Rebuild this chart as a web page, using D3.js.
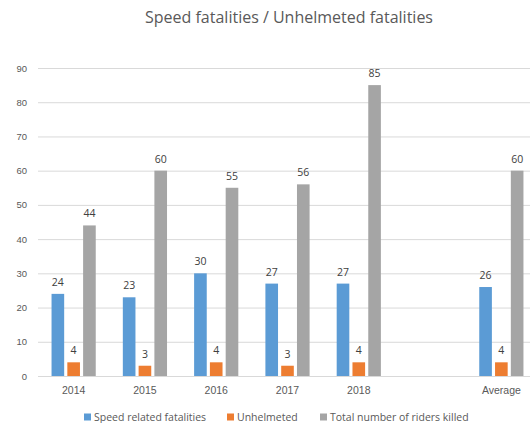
<!DOCTYPE html>
<html>
<head>
<meta charset="utf-8">
<script src="https://cdn.jsdelivr.net/npm/d3@7"></script>
<style>
  html, body { margin: 0; padding: 0; background: #fff; }
  svg { display: block; font-family: "Open Sans", "Liberation Sans", sans-serif; }
</style>
</head>
<body>
<svg id="chart" width="530" height="423"></svg>
<script>
// Yearly rider fatalities with a five-year average column
const categories = ["2014", "2015", "2016", "2017", "2018", "", "Average"];
const speedRelated = [24, 23, 30, 27, 27, null, 26];
const unhelmeted = [4, 3, 4, 3, 4, null, 4];
const totalKilled = [44, 60, 55, 56, 85, null, 60];
const seriesNames = ["Speed related fatalities", "Unhelmeted", "Total number of riders killed"];
const seriesColors = ["#5b9bd5", "#ed7d31", "#a5a5a5"];
const yTicks = [0, 10, 20, 30, 40, 50, 60, 70, 80, 90];

const seriesValues = [speedRelated, unhelmeted, totalKilled];

const svg = d3.select("#chart");
const margin = { left: 38, right: -7, top: 68, bottom: 47 };
const width = 530, height = 423;

const x = d3.scaleBand()
  .domain(d3.range(categories.length))
  .range([margin.left, width - margin.right])
  .paddingInner(0)
  .paddingOuter(0);

const x1 = d3.scaleBand()
  .domain(d3.range(seriesNames.length))
  .range([0, x.bandwidth() * 0.62])
  .paddingInner(0.2);

const y = d3.scaleLinear()
  .domain([0, 90])
  .range([height - margin.bottom, margin.top]);

// Title
svg.append("text")
  .attr("x", 289).attr("y", 23)
  .attr("text-anchor", "middle")
  .attr("fill", "#595959")
  .attr("font-size", 16)
  .text("Speed fatalities / Unhelmeted fatalities");

// Gridlines and y tick labels
const yAxis = d3.axisLeft(y).tickValues(yTicks).tickSize(-(width - margin.right - margin.left)).tickPadding(11);
const gy = svg.append("g")
  .attr("transform", `translate(${margin.left},0)`)
  .call(yAxis);
gy.select(".domain").remove();
gy.selectAll(".tick line").attr("stroke", "#d9d9d9").attr("stroke-width", 1);
gy.selectAll(".tick text").attr("fill", "#595959").attr("font-size", 9.5).attr("font-family", "inherit");

// Category axis
const xAxis = d3.axisBottom(x).tickFormat(i => categories[i]).tickSize(0).tickPadding(11);
const gx = svg.append("g")
  .attr("transform", `translate(0,${y(0)})`)
  .call(xAxis);
gx.select(".domain").attr("stroke", "#d9d9d9");
gx.selectAll(".tick text").attr("fill", "#595959").attr("font-size", 10.5).attr("font-family", "inherit");

// Bars and value labels
const groupOffset = (x.bandwidth() - x1.range()[1]) / 2;
const groups = svg.append("g").selectAll("g")
  .data(categories.map((c, i) => i))
  .join("g")
  .attr("transform", i => `translate(${x(i) + groupOffset},0)`);

seriesNames.forEach((name, s) => {
  const pts = groups.filter(i => seriesValues[s][i] != null);
  pts.append("rect")
    .attr("x", x1(s))
    .attr("y", i => y(seriesValues[s][i]))
    .attr("width", x1.bandwidth())
    .attr("height", i => y(0) - y(seriesValues[s][i]))
    .attr("fill", seriesColors[s]);
  pts.append("text")
    .attr("x", x1(s) + x1.bandwidth() / 2)
    .attr("y", i => y(seriesValues[s][i]) - 8)
    .attr("text-anchor", "middle")
    .attr("fill", "#404040")
    .attr("font-size", 10.5)
    .text(i => seriesValues[s][i]);
});

// Legend
const legendX = [84, 227, 320];
const legend = svg.append("g").attr("transform", "translate(0,417)");
seriesNames.forEach((name, s) => {
  legend.append("rect")
    .attr("x", legendX[s]).attr("y", -3.5)
    .attr("width", 7).attr("height", 7)
    .attr("fill", seriesColors[s]);
  legend.append("text")
    .attr("x", legendX[s] + 10).attr("y", 3.5)
    .attr("fill", "#595959")
    .attr("font-size", 10.5)
    .text(name);
});
</script>
</body>
</html>
